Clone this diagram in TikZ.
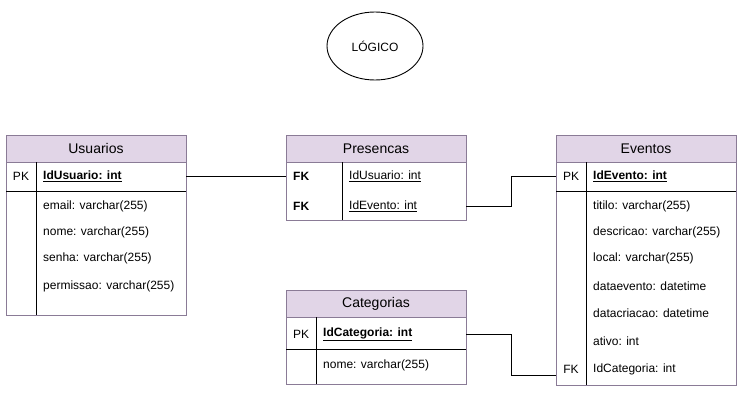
\documentclass[tikz,border=0pt]{standalone}
\usepackage{fontspec}
\setmainfont{Liberation Sans}
\usepackage{tikz}
\usetikzlibrary{shapes.geometric}
\definecolor{tblhead}{HTML}{E1D5E7}
\definecolor{tblborder}{HTML}{8A7B96}
\tikzset{%
    tbl/.style={draw=tblborder,line width=0.9pt},
    hdr/.style={tbl,fill=tblhead,minimum width=180pt,minimum height=27pt,inner sep=0pt,font=\fontsize{14}{16}\selectfont},
    sep/.style={black,line width=0.9pt},
    key/.style={inner sep=0pt,font=\fontsize{12}{14}\selectfont},
    fld/.style={inner sep=0pt,anchor=west,font=\fontsize{12}{14}\selectfont},
    link/.style={black,line width=0.9pt}
}
\newcommand{\pkfld}[1]{\textbf{\underline{#1}}}

\begin{document}
\begin{tikzpicture}[x=1pt,y=-1pt]
        \useasboundingbox (0,0) rectangle (754,412);

        \node[draw,ellipse,line width=0.9pt,minimum width=96pt,minimum height=68pt,font=\fontsize{12}{14}\selectfont] (logico) at (375,46) {LÓGICO};

        % Usuarios
        \draw[tbl] (6,135) rectangle (186,315);
        \node[hdr] (usuarios) at (96,148.5) {Usuarios};
        \draw[sep] (6,191) -- (186,191);
        \draw[sep] (36,162) -- (36,315);
        \node[key] (uk1) at (21,176) {PK};
        \node[fld] (u1) at (43,176) {\pkfld{IdUsuario: int}};
        \node[fld] (u2) at (43,206) {email: varchar(255)};
        \node[fld] (u3) at (43,232) {nome: varchar(255)};
        \node[fld] (u4) at (43,258) {senha: varchar(255)};
        \node[fld] (u5) at (43,286) {permissao: varchar(255)};
        \coordinate (u1r) at (186,176);

        % Presencas
        \draw[tbl] (286,135) rectangle (466,220);
        \node[hdr] (presencas) at (376,148.5) {Presencas};
        \draw[sep] (342,162) -- (342,220);
        \node[fld] (pk1) at (293,176) {\textbf{FK}};
        \node[fld] (p1) at (349,176) {\underline{IdUsuario: int}};
        \node[fld] (pk2) at (293,206) {\textbf{FK}};
        \node[fld] (p2) at (349,206) {\underline{IdEvento: int}};
        \coordinate (p1l) at (286,176);
        \coordinate (p2r) at (466,206);

        % Eventos
        \draw[tbl] (556,135) rectangle (736,385);
        \node[hdr] (eventos) at (646,148.5) {Eventos};
        \draw[sep] (556,191) -- (736,191);
        \draw[sep] (586,162) -- (586,385);
        \node[key] (ek1) at (571,176) {PK};
        \node[fld] (e1) at (593,176) {\pkfld{IdEvento: int}};
        \node[fld] (e2) at (593,206) {titilo: varchar(255)};
        \node[fld] (e3) at (593,232) {descricao: varchar(255)};
        \node[fld] (e4) at (593,258) {local: varchar(255)};
        \node[fld] (e5) at (593,286) {dataevento: datetime};
        \node[fld] (e6) at (593,313) {datacriacao: datetime};
        \node[fld] (e7) at (593,341) {ativo: int};
        \node[key] (ek8) at (571,369) {FK};
        \node[fld] (e8) at (593,369) {IdCategoria: int};
        \coordinate (e1l) at (556,176);
        \coordinate (e8l) at (556,375);

        % Categorias
        \draw[tbl] (286,290) rectangle (466,384);
        \node[hdr] (categorias) at (376,303.5) {Categorias};
        \draw[sep] (286,349) -- (466,349);
        \draw[sep] (316,317) -- (316,384);
        \node[key] (ck1) at (301,334) {PK};
        \node[fld] (c1) at (323,334) {\pkfld{IdCategoria: int}};
        \node[fld] (c2) at (323,365) {nome: varchar(255)};
        \coordinate (c1r) at (466,334);

        \draw[link] (u1r) -- (p1l);
        \draw[link] (p2r) -- (511,206) |- (e1l);
        \draw[link] (c1r) -- (511,334) |- (e8l);
\end{tikzpicture}
\end{document}
